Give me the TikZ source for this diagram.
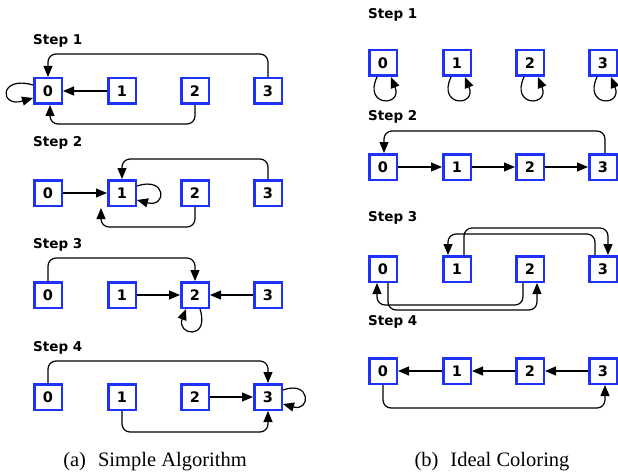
\documentclass[tikz,border=0pt]{standalone}
\usepackage{fontspec}
\setmainfont{Liberation Serif}
\newfontfamily\labelfont{DejaVu Sans}
\usetikzlibrary{arrows.meta,calc}
\definecolor{boxblue}{RGB}{30,50,250}

\begin{document}
\begin{tikzpicture}[x=1pt,y=-1pt,
  cell/.style={draw=boxblue, line width=2.5pt, fill=white,
    minimum width=27.5pt, minimum height=25.5pt, inner sep=0pt,
    font=\labelfont\bfseries\fontsize{14.5}{14.5}\selectfont},
  steplabel/.style={anchor=west, inner sep=0pt,
    font=\labelfont\bfseries\fontsize{13.5}{13.5}\selectfont},
  link/.style={line width=1.2pt, -{Triangle[length=11pt,width=9pt]},
    rounded corners=8pt},
  caption/.style={font=\fontsize{20.5}{20.5}\selectfont}]
\useasboundingbox (0,0) rectangle (618,476);

% ---------- (a) Simple Algorithm ----------
\foreach \r/\y in {1/91,2/193,3/295,4/397}{
  \foreach \c/\x in {0/48,1/122,2/195,3/268}{
    \node[cell] (a\r\c) at (\x,\y) {\c};
  }
}
\node[steplabel] (as1) at (33,41)  {Step 1};
\node[steplabel] (as2) at (33,143) {Step 2};
\node[steplabel] (as3) at (33,245) {Step 3};
\node[steplabel] (as4) at (33,348) {Step 4};

% step 1
\draw[link] (a13.north) -- ++(0,-23) -| (a10.north);
\draw[link] (a11.west) -- (a10.east);
\draw[link] (a12.south) -- ++(0,19) -| ([xshift=2pt]a10.south);
\draw[link] ([yshift=6pt]a10.west) .. controls +(-34,-10) and +(-34,10) .. ([yshift=-7pt]a10.west);
% step 2
\draw[link] (a20.east) -- (a21.west);
\draw[link] (a23.north) -- ++(0,-20) -| (a21.north);
\draw[link] (a22.south) -- ++(0,20) -| ([xshift=-6pt,yshift=-1pt]a21.south west);
\draw[link] ([yshift=7pt]a21.east) .. controls +(30,-10) and +(30,8) .. ([yshift=-7pt]a21.east);
% step 3
\draw[link] (a30.north) -- ++(0,-23) -| (a32.north);
\draw[link] (a31.east) -- (a32.west);
\draw[link] (a33.west) -- (a32.east);
\draw[link] ([xshift=5pt]a32.south) .. controls +(10,32) and +(-10,26) .. ([xshift=-9pt]a32.south);
% step 4
\draw[link] (a40.north) -- ++(0,-22) -| (a43.north);
\draw[link] (a42.east) -- (a43.west);
\draw[link] (a41.south) -- ++(0,21) -| (a43.south);
\draw[link] ([yshift=7pt]a43.east) .. controls +(28,-10) and +(28,8) .. ([yshift=-7pt]a43.east);

\node[caption] (capa) at (155,462) {(a)\hspace{12pt}Simple Algorithm};

% ---------- (b) Ideal Coloring ----------
\foreach \r/\y in {1/63,2/167,3/269,4/371}{
  \foreach \c/\x in {0/383,1/457,2/530,3/603}{
    \node[cell] (b\r\c) at (\x,\y) {\c};
  }
}
\node[steplabel] (bs1) at (368,15)  {Step 1};
\node[steplabel] (bs2) at (368,117) {Step 2};
\node[steplabel] (bs3) at (368,218) {Step 3};
\node[steplabel] (bs4) at (368,322) {Step 4};

% step 1
\foreach \c in {0,1,2,3}{
  \draw[link] ([xshift=-6pt]b1\c.south) .. controls +(-14,30) and +(12,30) .. ([xshift=8pt]b1\c.south);
}
% step 2
\draw[link] (b20.east) -- (b21.west);
\draw[link] (b21.east) -- (b22.west);
\draw[link] (b22.east) -- (b23.west);
\draw[link] ([xshift=2pt]b23.north) -- ++(0,-22) -| ([xshift=1pt]b20.north);
% step 3
\draw[link] ([xshift=-8pt]b33.north) -- ++(0,-21) -| ([xshift=-9pt]b31.north);
\draw[link] ([xshift=7pt]b31.north) -- ++(0,-27) -| ([xshift=5pt]b33.north);
\draw[link] ([xshift=-7pt]b32.south) -- ++(0,22) -| ([xshift=-6pt]b30.south);
\draw[link] ([xshift=5pt]b30.south) -- ++(0,27) -| ([xshift=7pt]b32.south);
% step 4
\draw[link] (b41.west) -- (b40.east);
\draw[link] (b42.west) -- (b41.east);
\draw[link] (b43.west) -- (b42.east);
\draw[link] (b40.south) -- ++(0,23) -| ([xshift=2pt]b43.south);

\node[caption] (capb) at (492,462) {(b)\hspace{12pt}Ideal Coloring};
\end{tikzpicture}
\end{document}
